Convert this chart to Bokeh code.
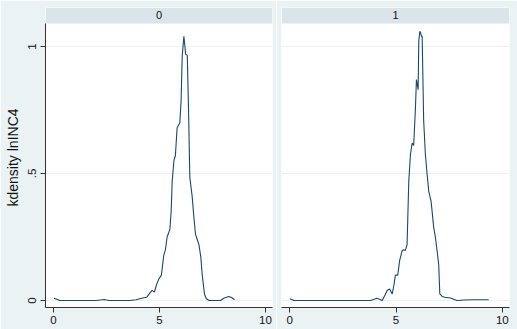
from bokeh.plotting import figure
from bokeh.layouts import row
from bokeh.models import Range1d, FixedTicker
from bokeh.core.properties import value
from bokeh.embed import file_html
from bokeh.resources import INLINE

# ---- data ----
panels = ["0", "1"]
x_ticks = [0, 5, 10]
y_ticks = [0, 0.5, 1]
y_tick_labels = {0: "0", 0.5: ".5", 1: "1"}
y_label = "kdensity lnINC4"

x0 = [0.02, 0.15, 0.3, 1.0, 2.0, 2.4, 2.6, 3.0, 3.6, 3.9, 4.2, 4.4, 4.55, 4.65, 4.76,
      4.85, 4.97, 5.09, 5.2, 5.28, 5.36, 5.49, 5.55, 5.6, 5.68, 5.71, 5.75, 5.83, 5.9,
      5.96, 6.02, 6.07, 6.15, 6.2, 6.23, 6.31, 6.37, 6.43, 6.54, 6.62, 6.7, 6.78, 6.86,
      6.95, 7.01, 7.12, 7.2, 7.33, 7.6, 7.88, 8.05, 8.27, 8.4, 8.54]
y0 = [0.009, 0.005, 0.0, 0.0, 0.0, 0.004, 0.0, 0.0, 0.0, 0.003, 0.01, 0.013, 0.03, 0.04,
      0.033, 0.06, 0.085, 0.1, 0.177, 0.2, 0.25, 0.28, 0.35, 0.47, 0.55, 0.56, 0.57, 0.68,
      0.69, 0.70, 0.79, 0.96, 1.04, 1.0, 0.97, 0.965, 0.75, 0.485, 0.41, 0.33, 0.26, 0.24,
      0.22, 0.17, 0.105, 0.026, 0.008, 0.0, 0.0, 0.0, 0.01, 0.016, 0.012, 0.003]

x1 = [0.0, 0.19, 1.0, 2.0, 3.0, 3.8, 4.0, 4.08, 4.2, 4.35, 4.5, 4.58, 4.7, 4.82, 4.9,
      4.97, 5.08, 5.17, 5.29, 5.36, 5.44, 5.52, 5.6, 5.68, 5.76, 5.83, 5.91, 5.96, 6.04,
      6.07, 6.12, 6.15, 6.2, 6.23, 6.3, 6.38, 6.46, 6.54, 6.65, 6.77, 6.85, 6.93, 7.01,
      7.06, 7.17, 7.3, 7.56, 7.87, 8.2, 8.6, 9.0, 9.36]
y1 = [0.007, 0.0, 0.0, 0.0, 0.0, 0.0, 0.006, 0.009, 0.006, 0.0, 0.025, 0.039, 0.045,
      0.026, 0.06, 0.1, 0.1, 0.157, 0.197, 0.2, 0.197, 0.22, 0.47, 0.577, 0.62, 0.61,
      0.75, 0.87, 0.83, 1.02, 1.06, 1.055, 1.04, 1.04, 0.71, 0.577, 0.5, 0.43, 0.39,
      0.29, 0.25, 0.197, 0.14, 0.026, 0.016, 0.013, 0.01, 0.0, 0.002, 0.003, 0.003, 0.003]

series = [(x0, y0), (x1, y1)]

# ---- style ----
BG = "#EAF2F3"
STRIP = "#D9E5EA"
LINE = "#1A476F"
FONT = "Liberation Sans"
AXIS = "#333333"

Y_BOTTOM = -0.0276
Y_STRIP = 1.0906
Y_TOP = 1.1535

x_ranges = [(-0.377, 10.33), (-0.39, 10.34)]
widths = [276, 241]
borders = [(45, 4), (5, 8)]

figs = []
for i, name in enumerate(panels):
    xs, ys = series[i]
    xr = Range1d(*x_ranges[i])
    yr = Range1d(Y_BOTTOM, Y_TOP)
    p = figure(width=widths[i], height=329, x_range=xr, y_range=yr,
               output_backend="svg", toolbar_location=None,
               y_axis_location="left" if i == 0 else None,
               min_border_left=borders[i][0], min_border_right=borders[i][1],
               min_border_top=7, min_border_bottom=22)
    p.background_fill_color = "white"
    p.border_fill_color = BG
    p.outline_line_color = None
    p.xgrid.visible = False
    p.ygrid.ticker = FixedTicker(ticks=y_ticks)
    p.ygrid.grid_line_color = BG
    p.ygrid.grid_line_width = 1

    xa = p.xaxis[0]
    xa.ticker = FixedTicker(ticks=x_ticks)
    xa.major_label_text_font = FONT
    xa.major_label_text_font_size = "11.5px"
    xa.major_label_text_color = "#111111"
    xa.major_tick_out = 5
    xa.major_tick_in = 0
    xa.minor_tick_out = 0
    xa.minor_tick_in = 0
    xa.major_label_standoff = 3
    xa.axis_line_color = AXIS
    xa.major_tick_line_color = AXIS

    if i == 0:
        ya = p.yaxis[0]
        ya.ticker = FixedTicker(ticks=y_ticks)
        ya.major_label_overrides = y_tick_labels
        ya.major_label_orientation = "vertical"
        ya.major_label_text_font = FONT
        ya.major_label_text_font_size = "11.5px"
        ya.major_label_text_color = "#111111"
        ya.major_tick_out = 5
        ya.major_tick_in = 0
        ya.minor_tick_out = 0
        ya.minor_tick_in = 0
        ya.major_label_standoff = 4
        ya.axis_line_color = AXIS
        ya.major_tick_line_color = AXIS
        ya.bounds = (Y_BOTTOM, Y_STRIP)
        ya.axis_label = y_label
        ya.axis_label_text_font = FONT
        ya.axis_label_text_font_size = "14px"
        ya.axis_label_text_font_style = "normal"
        ya.axis_label_text_color = "#111111"
        ya.axis_label_standoff = 5

    # header strip
    p.quad(left=[xr.start], right=[xr.end], bottom=[Y_STRIP], top=[Y_TOP],
           fill_color=STRIP, line_color=None)
    p.text(x=[(xr.start + xr.end) / 2], y=[(Y_STRIP + Y_TOP) / 2], text=[name],
           text_align="center", text_baseline="middle",
           text_font=value(FONT), text_font_size="11px", text_color="#111111")

    p.line(xs, ys, line_color=LINE, line_width=1.1)
    figs.append(p)

layout = row(*figs, spacing=0)
open("out.html", "w").write(file_html(layout, INLINE))
